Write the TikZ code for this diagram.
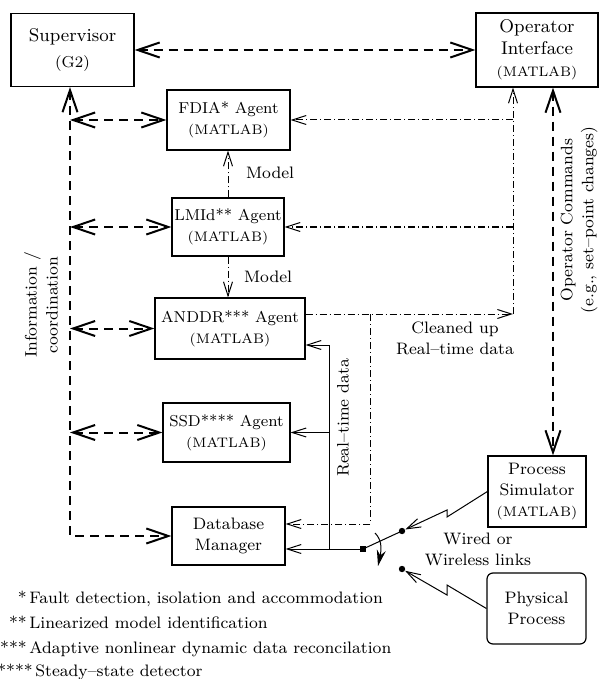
\documentclass[tikz,border=0pt]{standalone}
\usepackage{tikz}
\usetikzlibrary{arrows.meta}

\newcommand{\supfont}{\fontsize{9.2}{11}\selectfont}
\newcommand{\agentfont}{\fontsize{7.9}{10.5}\selectfont}
\newcommand{\matfont}{\fontsize{6.9}{9}\selectfont}
\newcommand{\lblfont}{\fontsize{8.3}{10.5}\selectfont}

\begin{document}
\begin{tikzpicture}[x=0.5pt, y=-0.5pt,
    box/.style={draw, line width=0.6pt, align=center, inner sep=1pt},
    bigarrow/.style={line width=1pt, dash pattern=on 4.5pt off 3pt, <->, >={Straight Barb[length=11pt,width=7.5pt]}},
    ddline/.style={line width=0.5pt, dash pattern=on 3.5pt off 1.5pt on 0.5pt off 1.5pt, ->, >={Straight Barb[length=7pt,width=4.5pt]}},
    rtline/.style={line width=0.5pt, ->, >={Straight Barb[length=7pt,width=4.5pt]}},
    dot/.style={circle, fill, inner sep=0pt, minimum size=3.2pt},
    lbl/.style={font=\lblfont, align=center}]
    \useasboundingbox (0,0) rectangle (600,679);
    % Boxes
    \node[box, minimum width=61.5pt, minimum height=36.5pt, font=\supfont] (sup) at (72.5,50) {Supervisor\\[2pt]{\agentfont (G2)}};
    \node[box, minimum width=61pt, minimum height=37pt, font=\supfont] (opi) at (537,50) {Operator\\Interface\\{\matfont (MATLAB)}};
    \node[box, minimum width=61.5pt, minimum height=30pt, font=\agentfont] (fdia) at (228.5,120) {FDIA* Agent\\{\matfont (MATLAB)}};
    \node[box, minimum width=56pt, minimum height=29pt, font=\agentfont] (lmid) at (228,227) {LMId** Agent\\{\matfont (MATLAB)}};
    \node[box, minimum width=75pt, minimum height=30.5pt, font=\agentfont] (anddr) at (230,328.5) {ANDDR*** Agent\\{\matfont (MATLAB)}};
    \node[box, minimum width=63.5pt, minimum height=29.5pt, font=\agentfont] (ssd) at (226.5,432.5) {SSD**** Agent\\{\matfont (MATLAB)}};
    \node[box, minimum width=56.5pt, minimum height=29pt, font=\lblfont] (dbm) at (228.5,536) {Database\\Manager};
    \node[box, minimum width=49pt, minimum height=35.5pt, font=\lblfont] (psim) at (537,491.5) {Process\\Simulator\\{\matfont (MATLAB)}};
    \node[box, rounded corners=3pt, minimum width=49.5pt, minimum height=35.5pt, font=\lblfont] (phy) at (536.5,608.5) {Physical\\Process};
    % Information / coordination bus
    \coordinate (bus) at (70,536);
    \draw[bigarrow] (sup.south -| bus) |- (dbm.west);
    \foreach \n in {fdia,lmid,anddr,ssd} {
        \draw[bigarrow] (bus |- \n.west) -- (\n.west);
    }
    \draw[bigarrow] (sup.east) -- (opi.west);
    \draw[bigarrow] ([xshift=8pt]opi.south) -- ([xshift=8pt]psim.north);
    \node[lbl, rotate=90] (info) at (41,305) {Information /\\coordination};
    \node[lbl, rotate=90] (cmd) at (579,220) {Operator Commands\\(e.g., set--point changes)};
    % Models
    \draw[ddline] (lmid.north) -- (fdia.south -| lmid.north);
    \draw[ddline] (lmid.south) -- (anddr.north -| lmid.south);
    \node[font=\lblfont, anchor=west] (m1) at (239,173) {Model};
    \node[font=\lblfont, anchor=west] (m2) at (237,277) {Model};
    % Cleaned up data
    \coordinate (cu) at (513,314);
    \coordinate (cd) at (370,314);
    \draw[ddline] (anddr.east |- cu) -- (cu);
    \draw[ddline] (cu) -- (opi.south -| cu);
    \draw[ddline] (cu |- fdia.east) -- (fdia.east);
    \draw[ddline] (cu |- lmid.east) -- (lmid.east);
    \draw[ddline] (cd) |- ([yshift=6pt]dbm.east);
    \node[lbl] (clean) at (455,338) {Cleaned up\\Real--time data};
    % Real-time data
    \node[fill, inner sep=0pt, minimum size=2.6pt] (sw) at (363,549) {};
    \coordinate (rt) at (329,345);
    \draw[rtline] (sw) -- (dbm.east |- sw);
    \draw[rtline] (sw -| rt) -- (rt) -- (anddr.east |- rt);
    \draw[rtline] (rt |- ssd.east) -- (ssd.east);
    \node[font=\lblfont, rotate=90] (rtl) at (343,418) {Real--time data};
    % Switch and links
    \node[dot] (swa) at (402,531) {};
    \node[dot] (swb) at (402,569) {};
    \draw[line width=0.5pt] (sw.center) -- (swa.center);
    \draw[line width=0.5pt, -{Stealth[length=8pt,width=4.5pt]}] (375,533) .. controls (381,539) and (382,547) .. (378,566);
    \draw[rtline] (psim.west) -- (447,517) -- (447,510) -- (swa);
    \draw[rtline] (phy.west) -- (447,585) -- (447,595) -- (swb);
    \node[lbl] (wl) at (478,549) {Wired or\\Wireless links};
    % Footnotes
    \node[font=\lblfont, anchor=base west, inner sep=0pt] (fn1) at (29,603) {\llap{*\,}Fault detection, isolation and accommodation};
    \node[font=\lblfont, anchor=base west, inner sep=0pt] (fn2) at (29,628) {\llap{**\,}Linearized model identification};
    \node[font=\lblfont, anchor=base west, inner sep=0pt] (fn3) at (29,653) {\llap{***\,}Adaptive nonlinear dynamic data reconcilation};
    \node[font=\lblfont, anchor=base west, inner sep=0pt] (fn4) at (35,676) {\llap{****\,}Steady--state detector};
\end{tikzpicture}
\end{document}
